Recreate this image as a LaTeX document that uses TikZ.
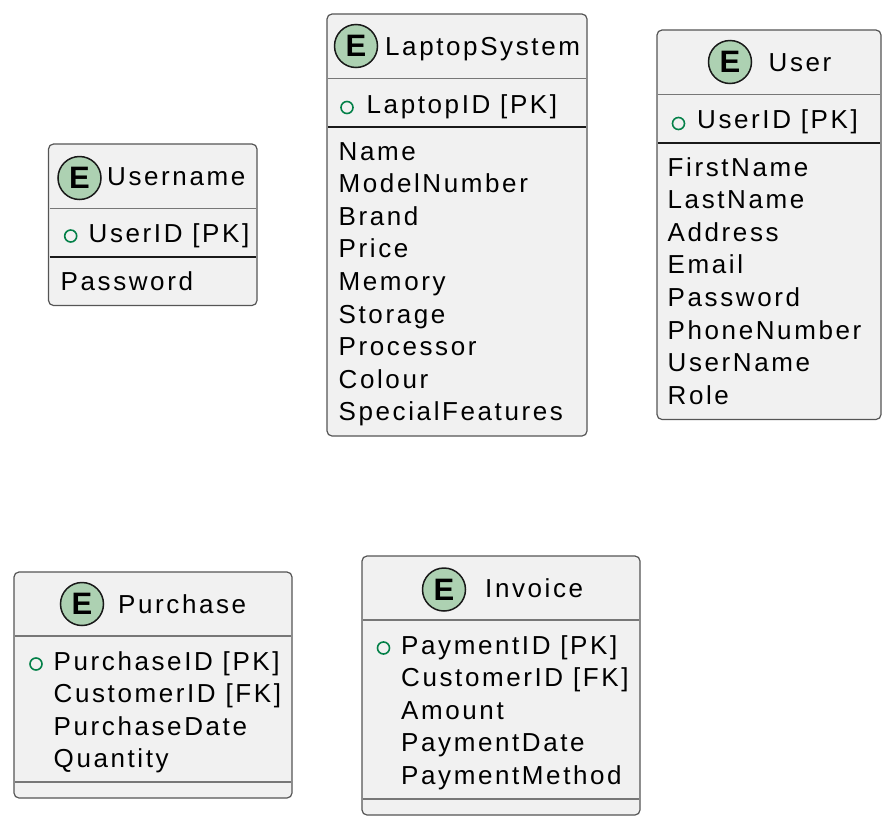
\documentclass[tikz,border=0pt]{standalone}
\usepackage{fontspec}
\setmainfont{Liberation Sans}[LetterSpace=10]
\newfontfamily\efont{Liberation Sans}[BoldFont={* Bold}]
\definecolor{boxfill}{HTML}{F1F1F1}
\definecolor{boxborder}{HTML}{555555}
\definecolor{sepgray}{HTML}{777777}
\definecolor{efill}{HTML}{ADD1B2}
\definecolor{pkgreen}{HTML}{038048}
\tikzset{
  entbox/.style={draw=boxborder, fill=boxfill, line width=1.2pt, rounded corners=5pt},
  ecirc/.style={circle, draw=black!90, fill=efill, line width=1.5pt, minimum size=43pt, inner sep=0pt,
    font=\efont\bfseries\fontsize{31}{32}\selectfont},
  ttl/.style={anchor=base west, inner sep=0pt, font=\fontsize{26}{30}\selectfont},
  attr/.style={anchor=base west, inner sep=0pt, font=\fontsize{26}{30}\selectfont},
  pkdot/.style={circle, draw=pkgreen, line width=1.6pt, minimum size=12pt, inner sep=0pt},
  septhin/.style={draw=sepgray, line width=1.3pt},
  septhick/.style={draw=black!90, line width=2pt},
}
\begin{document}
\begin{tikzpicture}[x=1pt,y=-1pt]
\useasboundingbox (0,0) rectangle (894,828);

% ---------- Username ----------
\path[entbox] (48.5,144) rectangle (257,305.5);
\node[ecirc] (unE) at (79.5,178) {E};
\node[ttl] (unT) at (107,185) {Username};
\draw[septhin] (49.5,208.3) -- (256,208.3);
\node[pkdot] (unD) at (70.7,236) {};
\node[attr] (unPK) at (88.5,242) {UserID [PK]};
\draw[septhick] (49.5,256.7) -- (256,256.7);
\node[attr] (unA1) at (60.5,290) {Password};

% ---------- LaptopSystem ----------
\path[entbox] (327,14) rectangle (587,436);
\node[ecirc] (lsE) at (356,46) {E};
\node[ttl] (lsT) at (385,55) {LaptopSystem};
\draw[septhin] (328,78.3) -- (586,78.3);
\node[pkdot] (lsD) at (347,107.5) {};
\node[attr] (lsPK) at (366.5,113) {LaptopID [PK]};
\draw[septhick] (328,126.7) -- (586,126.7);
\foreach \t [count=\i from 0] in {Name,ModelNumber,Brand,Price,Memory,Storage,Processor,Colour,SpecialFeatures}
  \node[attr] (lsA\i) at (338.5,160+32.6*\i) {\t};

% ---------- User ----------
\path[entbox] (657,30) rectangle (881,419.5);
\node[ecirc] (usE) at (730,62) {E};
\node[ttl] (usT) at (768.5,71) {User};
\draw[septhin] (658,94.3) -- (880,94.3);
\node[pkdot] (usD) at (678.5,123.5) {};
\node[attr] (usPK) at (697,128) {UserID [PK]};
\draw[septhick] (658,142.7) -- (880,142.7);
\foreach \t [count=\i from 0] in {FirstName,LastName,Address,Email,Password,PhoneNumber,UserName,Role}
  \node[attr] (usA\i) at (667.5,176+32.6*\i) {\t};

% ---------- Purchase ----------
\path[entbox] (14,572) rectangle (292,798);
\node[ecirc] (puE) at (82,604) {E};
\node[ttl] (puT) at (118,613) {Purchase};
\draw[septhin] (15,636) -- (291,636);
\node[pkdot] (puD) at (36,664) {};
\node[attr] (puPK) at (53.5,670) {PurchaseID [PK]};
\foreach \t [count=\i from 1] in {CustomerID [FK],PurchaseDate,Quantity}
  \node[attr] (puA\i) at (53.5,670+32.6*\i) {\t};
\draw[septhin] (15,782) -- (291,782);

% ---------- Invoice ----------
\path[entbox] (362,556) rectangle (640,815);
\node[ecirc] (inE) at (444,589.5) {E};
\node[ttl] (inT) at (485,597) {Invoice};
\draw[septhin] (363,620) -- (639,620);
\node[pkdot] (inD) at (383.5,648) {};
\node[attr] (inPK) at (401,654) {PaymentID [PK]};
\foreach \t [count=\i from 1] in {CustomerID [FK],Amount,PaymentDate,PaymentMethod}
  \node[attr] (inA\i) at (401,654+32.6*\i) {\t};
\draw[septhin] (363,799) -- (639,799);
\end{tikzpicture}
\end{document}
